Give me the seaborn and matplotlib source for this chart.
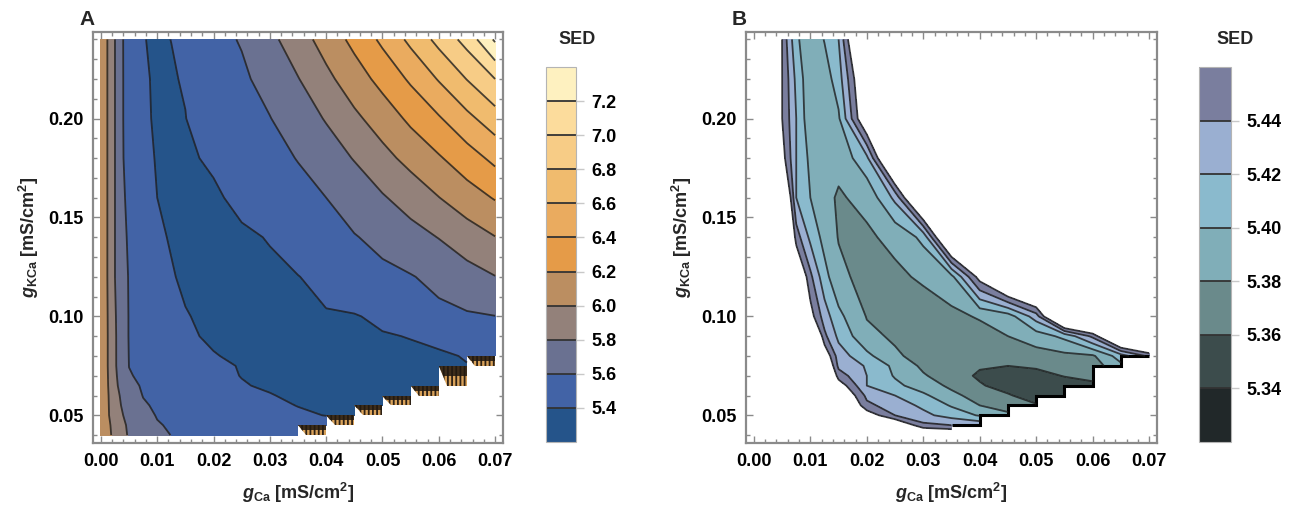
import numpy as np
import matplotlib
matplotlib.use("Agg")
import matplotlib.pyplot as plt
from matplotlib.ticker import MultipleLocator, FormatStrFormatter
import seaborn as sns

# Parameter grid: calcium conductance (columns) and Ca-activated K conductance (rows)
g_ca = [0.0, 0.0025, 0.005, 0.0075, 0.01, 0.0125, 0.015, 0.02, 0.025, 0.03,
        0.035, 0.04, 0.045, 0.05, 0.055, 0.06, 0.065, 0.07]
g_kca = [0.04, 0.045, 0.05, 0.055, 0.06, 0.065, 0.07, 0.075, 0.08, 0.09,
         0.10, 0.12, 0.14, 0.16, 0.18, 0.20, 0.22, 0.24]

# SED for every (g_KCa, g_Ca) pair; None marks runs where the model broke down
N = None
sed = [
    [6.19, 5.93, 5.78, 5.70, 5.63, 5.598, 5.58, 5.555, 5.53, 5.50, 5.49, N, N, N, N, N, N, N],
    [6.19, 5.91, 5.77, 5.665, 5.61, 5.586, 5.566, 5.53, 5.49, 5.445, 5.44, 5.435, N, N, N, N, N, N],
    [6.18, 5.87, 5.75, 5.645, 5.592, 5.565, 5.54, 5.475, 5.44, 5.425, 5.412, 5.398, 5.385, N, N, N, N, N],
    [6.18, 5.86, 5.72, 5.62, 5.575, 5.544, 5.515, 5.445, 5.43, 5.416, 5.398, 5.38, 5.37, 5.362, N, N, N, N],
    [6.18, 5.85, 5.70, 5.594, 5.567, 5.533, 5.495, 5.435, 5.42, 5.404, 5.385, 5.372, 5.362, 5.35, 5.35, N, N, N],
    [6.17, 5.84, 5.64, 5.585, 5.545, 5.515, 5.475, 5.42, 5.405, 5.39, 5.376, 5.362, 5.352, 5.347, 5.35, 5.356, N, N],
    [6.17, 5.83, 5.61, 5.575, 5.54, 5.52, 5.45, 5.42, 5.398, 5.382, 5.369, 5.357, 5.352, 5.353, 5.361, 5.365, N, N],
    [6.17, 5.82, 5.598, 5.57, 5.535, 5.50, 5.435, 5.418, 5.395, 5.376, 5.367, 5.362, 5.36, 5.363, 5.366, 5.37, 5.395, N],
    [6.17, 5.82, 5.595, 5.56, 5.53, 5.48, 5.43, 5.405, 5.383, 5.373, 5.368, 5.367, 5.368, 5.372, 5.375, 5.377, 5.41, 5.445],
    [6.17, 5.82, 5.59, 5.555, 5.53, 5.445, 5.415, 5.385, 5.377, 5.369, 5.368, 5.372, 5.38, 5.39, 5.405, 5.445, 5.53, 5.55],
    [6.17, 5.815, 5.59, 5.535, 5.47, 5.43, 5.405, 5.379, 5.371, 5.37, 5.375, 5.382, 5.39, 5.43, 5.54, 5.56, 5.58, 5.597],
    [6.17, 5.80, 5.585, 5.50, 5.445, 5.407, 5.385, 5.373, 5.376, 5.383, 5.394, 5.47, 5.53, 5.56, 5.59, 5.646, 5.727, 5.795],
    [6.17, 5.80, 5.56, 5.45, 5.415, 5.393, 5.379, 5.377, 5.385, 5.405, 5.525, 5.555, 5.59, 5.648, 5.727, 5.806, 5.903, 5.995],
    [6.17, 5.80, 5.52, 5.42, 5.40, 5.385, 5.378, 5.385, 5.425, 5.53, 5.56, 5.60, 5.69, 5.782, 5.884, 5.996, 6.11, 6.215],
    [6.17, 5.80, 5.47, 5.42, 5.395, 5.381, 5.385, 5.415, 5.53, 5.56, 5.605, 5.71, 5.81, 5.94, 6.06, 6.18, 6.31, 6.45],
    [6.17, 5.80, 5.46, 5.42, 5.385, 5.384, 5.397, 5.49, 5.55, 5.594, 5.705, 5.813, 5.96, 6.09, 6.24, 6.38, 6.547, 6.71],
    [6.17, 5.80, 5.46, 5.415, 5.384, 5.39, 5.41, 5.50, 5.567, 5.669, 5.792, 5.952, 6.106, 6.263, 6.43, 6.615, 6.806, 7.0],
    [6.17, 5.80, 5.457, 5.404, 5.385, 5.401, 5.42, 5.54, 5.614, 5.749, 5.911, 6.08, 6.254, 6.44, 6.647, 6.858, 7.07, 7.43],
]

# Panel A: full SED range
levels_a = [5.2, 5.4, 5.6, 5.8, 6.0, 6.2, 6.4, 6.6, 6.8, 7.0, 7.2, 7.4]
colors_a = ["#25548a", "#4263a6", "#6a7191", "#93817a", "#bb8e61", "#e59b48",
            "#eaab5f", "#f0bb6e", "#f7cc86", "#fcdc9c", "#fef1c0"]
ticks_a = [5.4, 5.6, 5.8, 6.0, 6.2, 6.4, 6.6, 6.8, 7.0, 7.2]

# Panel B: zoom on the minimum
levels_b = [5.32, 5.34, 5.36, 5.38, 5.40, 5.42, 5.44, 5.46]
colors_b = ["#212829", "#3c4c4c", "#6a8a8b", "#80aeb8", "#8abacd", "#9aafd1", "#7a7e9e"]
ticks_b = [5.34, 5.36, 5.38, 5.40, 5.42, 5.44]

sns.set_theme(style="ticks")
plt.rcParams["font.family"] = ["Liberation Sans", "DejaVu Sans"]
plt.rcParams["font.weight"] = "bold"
plt.rcParams["mathtext.fontset"] = "custom"
plt.rcParams["mathtext.it"] = "Liberation Sans:italic"
plt.rcParams["mathtext.bf"] = "Liberation Sans:bold"
plt.rcParams["mathtext.rm"] = "Liberation Sans:bold"
plt.rcParams["hatch.linewidth"] = 1.3

X = np.array(g_ca)
Y = np.array(g_kca)
Z = np.array([[np.nan if v is None else v for v in row] for row in sed], dtype=float)
Zm = np.ma.masked_invalid(Z)

# lower edge of the valid region: one step per g_Ca cell
valid = ~np.isnan(Z)
first_row = valid.argmax(axis=0)
cell_low = np.array([max(first_row[j], first_row[j + 1]) for j in range(len(X) - 1)])
j0 = int(np.argmax(cell_low > 0))

W, H = 1301, 512
fig = plt.figure(figsize=(W / 100, H / 100), dpi=100)
fig.patch.set_facecolor("white")


def px_axes(x0, x1, y0, y1):
    return fig.add_axes([x0 / W, 1 - y1 / H, (x1 - x0) / W, (y1 - y0) / H])


frame_col = "#8a8a8a"
line_col = "#1c1c1c"


def draw_panel(ax, cax, levels, colors, ticks, fmt, letter, letter_x, title_x):
    pal = sns.color_palette(colors)
    cf = ax.contourf(X, Y, Zm, levels=levels, colors=pal, corner_mask=False)
    ax.contour(X, Y, Zm, levels=levels[1:], colors=line_col, linewidths=1.3,
               alpha=0.8, corner_mask=False)

    ax.set_xlim(-0.0014, 0.0714)
    ax.set_ylim(0.036, 0.244)
    ax.xaxis.set_major_locator(MultipleLocator(0.01))
    ax.xaxis.set_minor_locator(MultipleLocator(0.002))
    ax.yaxis.set_major_locator(MultipleLocator(0.05))
    ax.yaxis.set_minor_locator(MultipleLocator(0.01))
    ax.xaxis.set_major_formatter(FormatStrFormatter("%.2f"))
    ax.yaxis.set_major_formatter(FormatStrFormatter("%.2f"))
    ax.tick_params(which="both", direction="in", top=True, right=True,
                   color=frame_col, width=1.0)
    ax.tick_params(which="major", length=5, labelsize=13, pad=7, labelcolor="black")
    ax.tick_params(which="minor", length=3)
    for s in ax.spines.values():
        s.set_color(frame_col)
        s.set_linewidth(1.6)
    ax.set_facecolor("white")
    ax.set_xlabel(r"$g_{\mathbf{Ca}}$ [mS/cm$^{\mathbf{2}}$]", fontsize=13,
                  fontweight="bold", labelpad=8)
    ax.set_ylabel(r"$g_{\mathbf{KCa}}$ [mS/cm$^{\mathbf{2}}$]", fontsize=13,
                  fontweight="bold", labelpad=5)

    cb = fig.colorbar(cf, cax=cax, drawedges=True, ticks=ticks)
    cb.outline.set_edgecolor("#b4b4b4")
    cb.outline.set_linewidth(0.8)
    cb.dividers.set_color("#333333")
    cb.dividers.set_linewidth(1.3)
    cax.yaxis.set_major_formatter(FormatStrFormatter(fmt))
    cax.tick_params(direction="out", length=6, width=1.0, color="#c8c8c8",
                    labelsize=13, pad=5, labelcolor="black")
    cax.minorticks_off()

    fig.text(letter_x / W, 1 - 25 / H, letter, fontsize=15, fontweight="bold",
             ha="left", va="baseline")
    fig.text(title_x / W, 1 - 40 / H, "SED", fontsize=13, fontweight="bold",
             ha="center", va="center")


ax_a = px_axes(93, 503, 31.5, 443)
cax_a = px_axes(546, 576, 67, 442)
draw_panel(ax_a, cax_a, levels_a, colors_a, ticks_a, "%.1f", "A", 79, 577)

# steep rise into the broken-down region: compressed, striped contour bands
for j in range(j0, len(X) - 1):
    top = Y[cell_low[j]]
    low = Y[cell_low[j - 1]]
    x0, x1 = X[j], X[j + 1]
    w, h = x1 - x0, top - low
    band = [(x0, top), (x1, top), (x1, low), (x0 + 0.3 * w, low)]
    ax_a.fill(*zip(*band), facecolor="#d9a25a", edgecolor="#2e2216", hatch="||||", lw=0)
    dark = [(x0, top), (x1, top), (x1, top - 0.5 * h), (x0 + 0.15 * w, top - 0.5 * h)]
    ax_a.fill(*zip(*dark), facecolor="#221910", lw=0, alpha=0.85)

ax_b = px_axes(746, 1157, 31.5, 443)
cax_b = px_axes(1199, 1231, 67, 442)
draw_panel(ax_b, cax_b, levels_b, colors_b, ticks_b, "%.2f", "B", 732, 1235)

# hard edge where the fits stop converging
ax_b.stairs(Y[cell_low[j0:]], X[j0:], baseline=None, color="black", lw=2.2)

fig.savefig("out.png", dpi=100, facecolor="white")
